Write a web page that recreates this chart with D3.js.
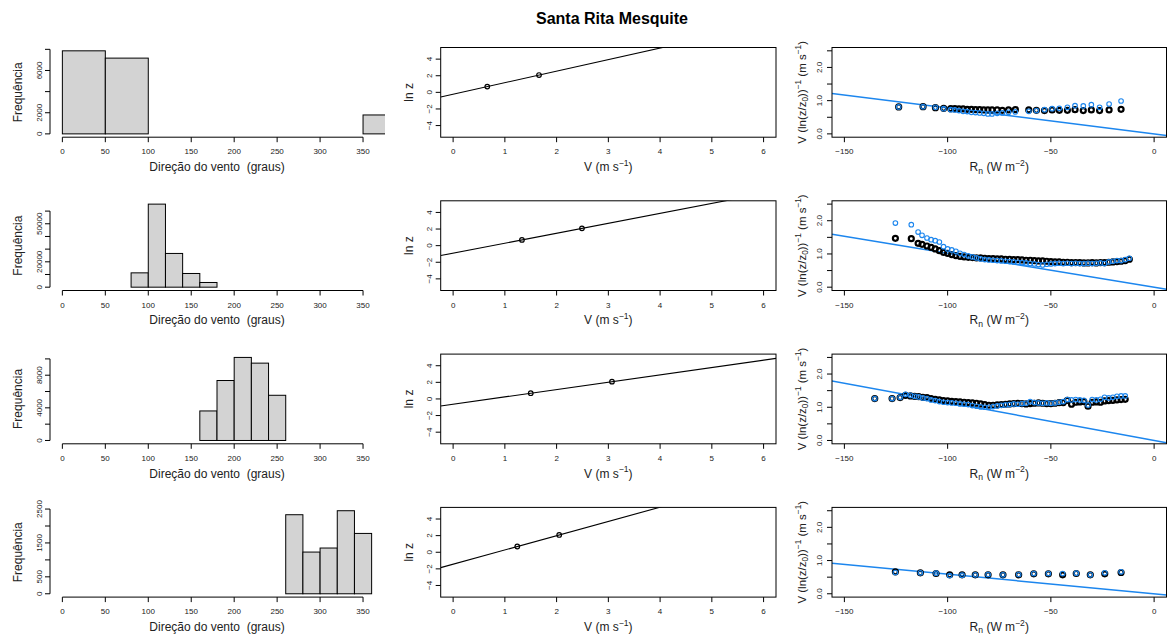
<!DOCTYPE html>
<html><head><meta charset="utf-8">
<script src="https://cdn.jsdelivr.net/npm/d3@7"></script>
<style>
html,body{margin:0;padding:0;background:#fff;}
svg{display:block;font-family:"Liberation Sans",Arial,Helvetica,sans-serif;}
text{white-space:pre;}
</style></head><body>
<svg id="chart" width="1167" height="637"></svg>
<script>
// ---- wind direction histograms (one row per direction sector) ----
const histBreaks = [
  [0, 50, 100, 150, 200, 250, 300, 350, 400],
  [80, 100, 120, 140, 160, 180],
  [160, 180, 200, 220, 240, 260],
  [260, 280, 300, 320, 340, 360]
];
const histCounts = [
  [7860, 7170, 0, 0, 0, 0, 0, 1790],
  [11300, 65500, 26600, 10800, 3700],
  [3620, 7350, 10180, 9480, 5540],
  [2333, 1231, 1350, 2451, 1781]
];
const histTicks = [
  [0, 2000, 4000, 6000, 8000],
  [0, 10000, 20000, 30000, 40000, 50000, 60000],
  [0, 2000, 4000, 6000, 8000, 10000],
  [0, 500, 1000, 1500, 2000, 2500]
];
const histTickLabels = [
  ["0", "2000", "", "6000", ""],
  ["0", "", "20000", "", "", "50000", ""],
  ["0", "", "4000", "", "8000", ""],
  ["0", "500", "", "1500", "", "2500"]
];
const dirTicks = [0, 50, 100, 150, 200, 250, 300, 350];

// ---- log-wind profile: ln z at the two measurement levels vs mean speed ----
const lnZ = [0.69, 2.08];
const profileSpeed = [
  [0.66, 1.66],
  [1.33, 2.49],
  [1.50, 3.07],
  [1.24, 2.05]
];
const speedTicks = [0, 1, 2, 3, 4, 5, 6];
const lnzTicks = [-4, -2, 0, 2, 4];

// ---- normalised wind speed vs net radiation ----
const rnBins = [
  [-123.7, -111.9, -105.9, -101.9, -98.5, -96.5, -94.5, -92.5, -90.5, -88.5, -86.5, -84.5, -82.5, -80.5, -78.5, -76, -73.5, -70.5, -67.2, -60.7, -57, -53.1, -49.4, -45.9, -42, -38.3, -34.3, -30.4, -26.4, -21.8, -16],
  [-125.3, -117.6, -114.3, -112.4, -110, -108, -106, -104, -102, -100, -98, -96, -94, -92, -90, -88, -86, -84, -82, -80, -78, -76, -74, -72, -70, -68, -66, -64, -62, -60, -58, -56, -54, -52, -50, -48, -46, -44, -42, -40, -38, -36, -34, -32, -30, -28, -26, -24, -22, -20, -18, -16, -14, -12],
  [-135.3, -126.9, -123, -120.4, -118, -116, -114, -112, -110, -108, -106, -104, -102, -100, -98, -96, -94, -92, -90, -88, -86, -84, -82, -80, -78, -76, -74, -72, -70, -68, -66, -64, -62, -60, -58, -56, -54, -52, -50, -48, -46, -44, -42, -40, -38, -36, -34, -32, -30, -28, -26, -24, -22, -20, -18, -16, -14],
  [-125.3, -113.2, -105.6, -99, -93, -86.6, -80.4, -73.2, -65.6, -58.3, -51.2, -44.3, -37.7, -30.9, -23.9, -16]
];
const blackV = [
  [0.81, 0.82, 0.79, 0.77, 0.76, 0.76, 0.75, 0.75, 0.74, 0.74, 0.73, 0.73, 0.72, 0.72, 0.72, 0.72, 0.71, 0.72, 0.73, 0.72, 0.71, 0.70, 0.72, 0.71, 0.71, 0.73, 0.70, 0.72, 0.70, 0.72, 0.74],
  [1.47, 1.46, 1.32, 1.29, 1.24, 1.20, 1.15, 1.10, 1.05, 1.02, 0.98, 0.95, 0.93, 0.91, 0.90, 0.89, 0.88, 0.88, 0.87, 0.86, 0.86, 0.85, 0.85, 0.84, 0.84, 0.83, 0.83, 0.82, 0.81, 0.81, 0.80, 0.79, 0.79, 0.78, 0.77, 0.76, 0.76, 0.75, 0.75, 0.74, 0.74, 0.74, 0.73, 0.73, 0.74, 0.73, 0.74, 0.74, 0.75, 0.76, 0.77, 0.78, 0.80, 0.84],
  [1.26, 1.26, 1.29, 1.36, 1.34, 1.33, 1.32, 1.30, 1.29, 1.26, 1.24, 1.22, 1.20, 1.19, 1.18, 1.17, 1.16, 1.15, 1.14, 1.13, 1.12, 1.10, 1.08, 1.06, 1.06, 1.07, 1.08, 1.09, 1.10, 1.11, 1.12, 1.11, 1.10, 1.11, 1.12, 1.13, 1.12, 1.11, 1.11, 1.12, 1.14, 1.14, 1.21, 1.09, 1.15, 1.16, 1.17, 1.03, 1.15, 1.16, 1.15, 1.19, 1.20, 1.21, 1.22, 1.23, 1.24],
  [0.66, 0.63, 0.61, 0.57, 0.57, 0.57, 0.57, 0.57, 0.57, 0.60, 0.60, 0.57, 0.61, 0.57, 0.60, 0.64]
];
const blueV = [
  [0.81, 0.82, 0.80, 0.76, 0.73, 0.72, 0.70, 0.68, 0.67, 0.65, 0.64, 0.63, 0.62, 0.60, 0.60, 0.62, 0.63, 0.65, 0.66, 0.68, 0.70, 0.73, 0.76, 0.77, 0.80, 0.85, 0.84, 0.88, 0.80, 0.90, 0.99],
  [1.93, 1.88, 1.66, 1.56, 1.48, 1.43, 1.40, 1.36, 1.22, 1.15, 1.12, 1.08, 1.02, 0.98, 0.94, 0.91, 0.88, 0.85, 0.83, 0.82, 0.81, 0.80, 0.79, 0.78, 0.77, 0.76, 0.75, 0.74, 0.73, 0.71, 0.70, 0.68, 0.67, 0.69, 0.70, 0.71, 0.72, 0.71, 0.72, 0.71, 0.72, 0.71, 0.71, 0.72, 0.71, 0.72, 0.73, 0.71, 0.76, 0.78, 0.80, 0.80, 0.83, 0.87],
  [1.26, 1.26, 1.30, 1.39, 1.36, 1.33, 1.31, 1.28, 1.26, 1.22, 1.20, 1.17, 1.15, 1.14, 1.13, 1.12, 1.10, 1.09, 1.08, 1.05, 1.03, 1.01, 1.00, 1.00, 1.02, 1.04, 1.06, 1.07, 1.08, 1.10, 1.09, 1.11, 1.12, 1.17, 1.14, 1.13, 1.12, 1.13, 1.12, 1.13, 1.15, 1.17, 1.23, 1.22, 1.23, 1.22, 1.21, 1.07, 1.23, 1.22, 1.24, 1.30, 1.28, 1.30, 1.33, 1.34, 1.34],
  [0.64, 0.63, 0.62, 0.55, 0.56, 0.57, 0.58, 0.57, 0.58, 0.61, 0.61, 0.61, 0.62, 0.57, 0.63, 0.66]
];
// slope of the reference line through the origin, per row
const fitSlope = [-0.0078, -0.0102, -0.0115, -0.0059];
const rnTicks = [-150, -100, -50, 0];
const vTicks = [0, 0.5, 1, 1.5, 2, 2.5];
const vTickLabels = ["0.0", "", "1.0", "", "2.0", ""];

// ---- layout ----
const svg = d3.select("#chart");
const BLUE = "#1C86EE";
const rowTop0 = 47.5, rowStep = 153.3, regionH = 89.7;
const cols = [[50, 384], [440.7, 776], [832, 1166.5]];
const tickFont = 8, labFont = 12, tickLen = 5;
const minus = s => String(s).replace("-", "\u2212");

svg.append("text")
  .attr("x", 612).attr("y", 24)
  .attr("text-anchor", "middle")
  .attr("font-weight", "bold").attr("font-size", 16)
  .text("Santa Rita Mesquite");

// text with super/subscripts; parts: [text, shift] where shift is "sup" / "sub" / undefined
function rich(sel, parts, fs) {
  let cur = 0;
  parts.forEach(([t, kind]) => {
    const target = kind === "sup" ? -0.42 * fs : kind === "sub" ? 0.22 * fs : 0;
    sel.append("tspan")
      .attr("dy", target - cur)
      .attr("font-size", kind ? fs * 0.72 : fs)
      .text(t);
    cur = target;
  });
}

function xAxis(g, scale, ticks, labels, y, lineFrom, lineTo) {
  if (lineFrom !== undefined) {
    g.append("line").attr("x1", scale(lineFrom)).attr("x2", scale(lineTo))
      .attr("y1", y).attr("y2", y).attr("stroke", "#000").attr("stroke-width", 1);
  }
  ticks.forEach((t, i) => {
    const x = scale(t);
    g.append("line").attr("x1", x).attr("x2", x).attr("y1", y).attr("y2", y + tickLen)
      .attr("stroke", "#000");
    if (labels[i] !== "") g.append("text").attr("x", x).attr("y", y + 17)
      .attr("text-anchor", "middle").attr("font-size", tickFont).attr("fill", "#222").text(labels[i]);
  });
}

function yAxis(g, scale, ticks, labels, x, withLine, labOff) {
  if (withLine) {
    g.append("line").attr("x1", x).attr("x2", x)
      .attr("y1", scale(ticks[0])).attr("y2", scale(ticks[ticks.length - 1]))
      .attr("stroke", "#000");
  }
  ticks.forEach((t, i) => {
    const y = scale(t);
    g.append("line").attr("x1", x - tickLen).attr("x2", x).attr("y1", y).attr("y2", y)
      .attr("stroke", "#000");
    if (labels[i] !== "") g.append("text")
      .attr("transform", `translate(${x - labOff},${y}) rotate(-90)`)
      .attr("text-anchor", "middle").attr("dy", "0.35em")
      .attr("font-size", tickFont).attr("fill", "#222").text(labels[i]);
  });
}

function clip(id, x0, y0, x1, y1) {
  svg.append("clipPath").attr("id", id).append("rect")
    .attr("x", x0).attr("y", y0).attr("width", x1 - x0).attr("height", y1 - y0);
  return `url(#${id})`;
}

for (let r = 0; r < 4; r++) {
  const top = rowTop0 + r * rowStep, bot = top + regionH;

  // --- column 1: histogram ---
  {
    const [x0, x1] = cols[0];
    const g = svg.append("g");
    const xs = d3.scaleLinear().domain([-14.4, 374.4]).range([x0, x1]);
    const ymax = d3.max(histCounts[r]);
    const ys = d3.scaleLinear().domain([-0.04 * ymax, 1.04 * ymax]).range([bot, top]);
    const bins = histCounts[r].map((c, i) => ({ a: histBreaks[r][i], b: histBreaks[r][i + 1], c }));
    g.append("g").attr("clip-path", clip("ch" + r, x0, top, x1 + 1, bot))
      .selectAll("rect").data(bins).join("rect")
      .attr("x", d => xs(d.a)).attr("width", d => xs(d.b) - xs(d.a))
      .attr("y", d => ys(d.c)).attr("height", d => ys(0) - ys(d.c))
      .attr("fill", "#D3D3D3").attr("stroke", "#000").attr("stroke-width", 1);
    xAxis(g, xs, dirTicks, dirTicks.map(String), bot, 0, 350);
    yAxis(g, ys, histTicks[r], histTickLabels[r], x0, true, 10.7);
    g.append("text").attr("x", (x0 + x1) / 2).attr("y", bot + 33.7)
      .attr("text-anchor", "middle").attr("font-size", labFont).attr("fill", "#222")
      .text("Direção do vento  (graus)");
    g.append("text").attr("transform", `translate(${x0 - 32.7},${(top + bot) / 2}) rotate(-90)`)
      .attr("text-anchor", "middle").attr("dy", "0.35em").attr("font-size", labFont).attr("fill", "#222")
      .text("Frequência");
  }

  // --- column 2: log profile ---
  {
    const [x0, x1] = cols[1];
    const g = svg.append("g");
    const xs = d3.scaleLinear().domain([-0.24, 6.24]).range([x0, x1]);
    const ys = d3.scaleLinear().domain([-5.4, 5.4]).range([bot, top]);
    const sp = profileSpeed[r];
    const slope = (lnZ[1] - lnZ[0]) / (sp[1] - sp[0]);
    const icpt = lnZ[0] - slope * sp[0];
    const dom = xs.domain();
    g.append("line").attr("clip-path", clip("cp" + r, x0, top, x1, bot))
      .attr("x1", xs(dom[0])).attr("y1", ys(icpt + slope * dom[0]))
      .attr("x2", xs(dom[1])).attr("y2", ys(icpt + slope * dom[1]))
      .attr("stroke", "#000").attr("stroke-width", 1.1);
    g.selectAll("circle").data(sp).join("circle")
      .attr("cx", d => xs(d)).attr("cy", (d, i) => ys(lnZ[i])).attr("r", 2.3)
      .attr("fill", "none").attr("stroke", "#000").attr("stroke-width", 1.2);
    g.append("rect").attr("x", x0).attr("y", top).attr("width", x1 - x0).attr("height", bot - top)
      .attr("fill", "none").attr("stroke", "#000");
    xAxis(g, xs, speedTicks, speedTicks.map(String), bot);
    yAxis(g, ys, lnzTicks, lnzTicks.map(minus), x0, false, 11.4);
    rich(g.append("text").attr("x", (x0 + x1) / 2).attr("y", bot + 33.7)
      .attr("text-anchor", "middle").attr("fill", "#222"),
      [["V (m s"], ["\u22121", "sup"], [")"]], labFont);
    g.append("text").attr("transform", `translate(${x0 - 32.4},${(top + bot) / 2}) rotate(-90)`)
      .attr("text-anchor", "middle").attr("dy", "0.35em").attr("font-size", labFont).attr("fill", "#222")
      .text("ln z");
  }

  // --- column 3: normalised speed vs net radiation ---
  {
    const [x0, x1] = cols[2];
    const g = svg.append("g");
    const xs = d3.scaleLinear().domain([-156, 6]).range([x0, x1]);
    const ys = d3.scaleLinear().domain([-0.1, 2.6]).range([bot, top]);
    const inner = g.append("g").attr("clip-path", clip("cr" + r, x0, top, x1, bot));
    const dom = xs.domain();
    inner.append("line")
      .attr("x1", xs(dom[0])).attr("y1", ys(fitSlope[r] * dom[0]))
      .attr("x2", xs(dom[1])).attr("y2", ys(fitSlope[r] * dom[1]))
      .attr("stroke", BLUE).attr("stroke-width", 1.5);
    inner.append("g").selectAll("circle").data(rnBins[r]).join("circle")
      .attr("cx", d => xs(d)).attr("cy", (d, i) => ys(blackV[r][i])).attr("r", 2.5)
      .attr("fill", "none").attr("stroke", "#000").attr("stroke-width", 2.2);
    inner.append("g").selectAll("circle").data(rnBins[r]).join("circle")
      .attr("cx", d => xs(d)).attr("cy", (d, i) => ys(blueV[r][i])).attr("r", 2.3)
      .attr("fill", "none").attr("stroke", BLUE).attr("stroke-width", 1.1);
    g.append("rect").attr("x", x0).attr("y", top).attr("width", x1 - x0).attr("height", bot - top)
      .attr("fill", "none").attr("stroke", "#000");
    xAxis(g, xs, rnTicks, rnTicks.map(minus), bot);
    yAxis(g, ys, vTicks, vTickLabels, x0, false, 12.7);
    rich(g.append("text").attr("x", (x0 + x1) / 2).attr("y", bot + 33.7)
      .attr("text-anchor", "middle").attr("fill", "#222"),
      [["R"], ["n", "sub"], [" (W m"], ["\u22122", "sup"], [")"]], labFont);
    rich(g.append("text").attr("transform", `translate(${x0 - 26.3},${(top + bot) / 2}) rotate(-90)`)
      .attr("text-anchor", "middle").attr("fill", "#222").attr("dy", "0.35em"),
      [["V (ln(z/z"], ["0", "sub"], ["))"], ["\u22121", "sup"], [" (m s"], ["\u22121", "sup"], [")"]], 11.5);
  }
}
</script>
</body></html>
